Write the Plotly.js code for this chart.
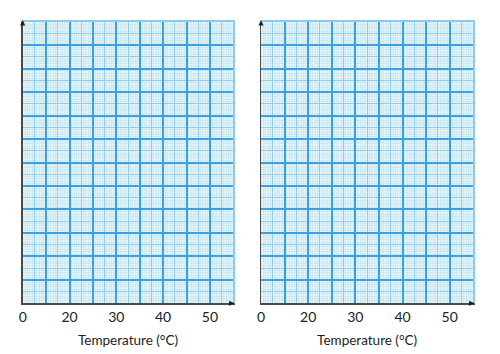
<!DOCTYPE html>
<html>
<head>
<meta charset="utf-8">
<script src="https://cdn.plot.ly/plotly-3.0.1.min.js"></script>
<style>html,body{margin:0;padding:0;background:#fff;}#chart{width:500px;height:354px;}</style>
</head>
<body>
<div id="chart"></div>
<script>
// Tick positions and labels as printed on the reference graph paper
const xTickVals = [10, 20, 30, 40, 50];
const xTickText = ["0", "20", "30", "40", "50"];
const xRange = [10, 55];
const yRange = [0, 60];
const xTitle = "Temperature (°C)";
const panelDomains = [[0.0454, 0.4666], [0.522, 0.9466]];

const C_BG = '#e9f6f9', C_FINE = '#cdeaf2', C_MED = '#92cdeb', C_MAJ = '#3c9fe0';
const FONT = 'Lato, "Open Sans", sans-serif';
const yDom = [0.1432, 0.9387];

const layout = {
  width: 500, height: 354,
  margin: {l: 0, r: 0, t: 0, b: 0},
  paper_bgcolor: '#ffffff', plot_bgcolor: C_BG,
  showlegend: false,
  font: {family: FONT, size: 13, color: '#222'},
  annotations: []
};
const data = [];

panelDomains.forEach((dom, i) => {
  const main = i === 0 ? '' : String(2);
  const med = String(3 + i * 2);   // medium-line axes
  const maj = String(4 + i * 2);   // major-line axes
  const mx = 'x' + main, my = 'y' + main;
  layout['xaxis' + main] = {
    domain: dom, range: xRange, anchor: my,
    tickmode: 'array', tickvals: xTickVals, ticktext: xTickText,
    showgrid: false, zeroline: false, showline: true, linecolor: '#4a4a4a', linewidth: 1.5,
    ticks: '', tickfont: {family: FONT, size: 14, color: '#222'},
    title: {text: xTitle, font: {family: FONT, size: 13.5, color: '#222'}, standoff: 12},
    fixedrange: true
  };
  layout['yaxis' + main] = {
    domain: yDom, range: yRange, anchor: mx,
    showgrid: false, zeroline: false, showline: true, linecolor: '#4a4a4a', linewidth: 1.5,
    showticklabels: false, ticks: '', fixedrange: true
  };
  // medium lines (half of each major cell) + fine minor lines
  layout['xaxis' + med] = {
    overlaying: mx, anchor: 'y' + med, range: xRange, side: 'top',
    tick0: 12.5, dtick: 5, showgrid: true, gridcolor: C_MED, gridwidth: 1,
    minor: {dtick: 0.5, showgrid: true, gridcolor: C_FINE, gridwidth: 1},
    showticklabels: false, ticks: '', zeroline: false, showline: true, linecolor: '#8ccbe9', linewidth: 1.5
  };
  layout['yaxis' + med] = {
    overlaying: my, anchor: 'x' + med, range: yRange, side: 'right',
    tick0: 2.5, dtick: 5, showgrid: true, gridcolor: C_MED, gridwidth: 1,
    minor: {dtick: 0.5, showgrid: true, gridcolor: C_FINE, gridwidth: 1},
    showticklabels: false, ticks: '', zeroline: false, showline: true, linecolor: '#8ccbe9', linewidth: 1.5
  };
  // major lines
  layout['xaxis' + maj] = {
    overlaying: mx, anchor: 'y' + maj, range: xRange,
    tick0: 0, dtick: 5, showgrid: true, gridcolor: C_MAJ, gridwidth: 2,
    showticklabels: false, ticks: '', zeroline: false, showline: false
  };
  layout['yaxis' + maj] = {
    overlaying: my, anchor: 'x' + maj, range: yRange,
    tick0: 0, dtick: 5, showgrid: true, gridcolor: C_MAJ, gridwidth: 2,
    showticklabels: false, ticks: '', zeroline: false, showline: false
  };
  [[mx, my], ['x' + med, 'y' + med], ['x' + maj, 'y' + maj]].forEach(([xa, ya]) => {
    data.push({type: 'scatter', mode: 'markers', x: [], y: [], xaxis: xa, yaxis: ya, hoverinfo: 'skip', showlegend: false});
  });
  // small arrowheads at the axis ends
  layout.annotations.push({
    xref: mx + ' domain', yref: my + ' domain', x: 0, y: 1.005, ax: 0, ay: 6,
    text: '', showarrow: true, arrowhead: 2, arrowsize: 0.7, arrowwidth: 1.5, arrowcolor: '#222'
  });
  layout.annotations.push({
    xref: mx + ' domain', yref: my + ' domain', x: 1.005, y: 0, ax: -6, ay: 0,
    text: '', showarrow: true, arrowhead: 2, arrowsize: 0.7, arrowwidth: 1.5, arrowcolor: '#222'
  });
});

Plotly.newPlot('chart', data, layout, {staticPlot: true, displayModeBar: false});
</script>
</body>
</html>
